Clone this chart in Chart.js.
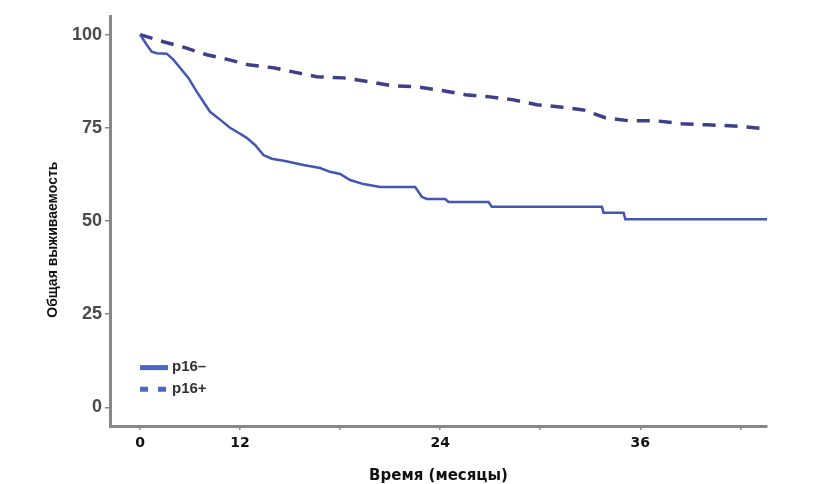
<!DOCTYPE html>
<html>
<head>
<meta charset="utf-8">
<script src="https://cdn.jsdelivr.net/npm/chart.js@4/dist/chart.umd.min.js"></script>
<style>
  html, body { margin: 0; padding: 0; background: #fff; }
  #wrap { width: 827px; height: 484px; }
</style>
</head>
<body>
<div id="wrap"><canvas id="kmChart" width="827" height="484"></canvas></div>
<script>
// Время (месяцы) / Общая выживаемость, %
const negMonths = [0, 0.2, 0.4, 0.7, 1.0, 1.6, 2.0, 2.4, 2.9, 3.4, 3.8, 4.2, 4.8, 5.4, 6.0, 6.4, 6.9, 7.4, 7.9, 8.7, 9.8, 10.8, 11.4, 12.0, 12.6, 13.4, 14.4, 16.5, 16.9, 17.2, 18.3, 18.5, 20.9, 21.1, 27.7, 27.8, 29.0, 29.1, 37.6];
const negSurv   = [100, 98.7, 97.3, 95.4, 95.0, 94.9, 93.3, 91.1, 88.4, 84.7, 82.0, 79.3, 77.2, 75.0, 73.4, 72.3, 70.4, 67.7, 66.7, 66.1, 65.0, 64.2, 63.2, 62.6, 61.0, 59.9, 59.1, 59.1, 56.5, 55.9, 55.9, 55.1, 55.1, 53.8, 53.8, 52.2, 52.2, 50.5, 50.5];

const posMonths = [0, 1.4, 2.7, 4.0, 5.3, 6.5, 8.0, 9.4, 10.6, 12.2, 13.7, 15.1, 16.6, 18.1, 19.5, 21.0, 22.4, 23.8, 25.2, 26.6, 27.9, 29.3, 30.9, 32.5, 34.0, 35.6, 37.6];
const posSurv   = [100, 98.1, 96.5, 94.6, 93.3, 91.9, 91.1, 89.8, 88.7, 88.4, 87.4, 86.3, 86.0, 85.0, 83.9, 83.3, 82.5, 81.2, 80.6, 79.8, 77.7, 76.9, 76.9, 76.1, 75.8, 75.5, 74.7];

const xTicks = [0, 6, 12, 18, 24, 30, 36];
const xTickLabels = ['0', '12', '', '24', '', '36', ''];
const yTicks = [0, 25, 50, 75, 100];
const seriesLabels = ['p16–', 'p16+'];
const yTitle = 'Общая выживаемость';

const toPoints = (xs, ys) => xs.map((x, i) => ({ x: x, y: ys[i] }));

// legend inside the plot (lower left) and the rotated y title
const extras = {
    id: 'extras',
    afterDraw(chart) {
        const ctx = chart.ctx;
        const xs = chart.scales.x, ys = chart.scales.y;
        const x0 = xs.getPixelForValue(0);
        const rows = [ys.getPixelForValue(10.8), ys.getPixelForValue(5)];
        ctx.save();
        ctx.fillStyle = '#4a66c4';
        ctx.fillRect(x0, rows[0] - 2, 28, 5);
        ctx.fillRect(x0, rows[1] - 2, 8, 5);
        ctx.fillRect(x0 + 18, rows[1] - 2, 8, 5);
        ctx.fillStyle = '#333';
        ctx.font = 'bold 15px "Liberation Sans", Arial, sans-serif';
        ctx.textBaseline = 'middle';
        ctx.fillText(chart.data.datasets[0].label, x0 + 32, rows[0]);
        ctx.fillText(chart.data.datasets[1].label, x0 + 32, rows[1]);

        ctx.translate(53, ys.getPixelForValue(45));
        ctx.rotate(-Math.PI / 2);
        ctx.textAlign = 'center';
        ctx.fillStyle = '#111';
        ctx.font = 'bold 14px "Liberation Sans Narrow", "Liberation Sans", Arial, sans-serif';
        ctx.fillText(yTitle, 0, 0);
        ctx.restore();
    }
};

const ctx = document.getElementById('kmChart').getContext('2d');
new Chart(ctx, {
    type: 'line',
    data: {
        datasets: [{
            label: seriesLabels[0],
            data: toPoints(negMonths, negSurv),
            borderColor: '#4256b2',
            borderWidth: 2.5,
            pointRadius: 0,
            tension: 0,
            fill: false
        }, {
            label: seriesLabels[1],
            data: toPoints(posMonths, posSurv),
            borderColor: '#3d3f88',
            borderWidth: 3.5,
            borderDash: [13, 9],
            pointRadius: 0,
            tension: 0,
            fill: false
        }]
    },
    options: {
        responsive: false,
        animation: false,
        layout: { padding: { top: 16, right: 60, left: 0, bottom: 0 } },
        plugins: {
            legend: { display: false },
            tooltip: { enabled: false }
        },
        scales: {
            x: {
                type: 'linear',
                min: -1.8,
                max: 37.6,
                afterBuildTicks: s => { s.ticks = xTicks.map(v => ({ value: v })); },
                afterFit: s => { s.height = 58; },
                ticks: {
                    callback: (v) => xTickLabels[xTicks.indexOf(v)],
                    color: '#111',
                    font: { family: '"DejaVu Sans", Verdana, sans-serif', size: 14, weight: 'bold' },
                    padding: 5,
                    maxRotation: 0,
                    autoSkip: false
                },
                grid: { drawOnChartArea: false, drawTicks: true, tickLength: 4, color: '#888', lineWidth: 1.5 },
                border: { color: '#888', width: 3 },
                title: {
                    display: true,
                    text: 'Время (месяцы)',
                    color: '#111',
                    font: { family: '"DejaVu Sans", Verdana, sans-serif', size: 15, weight: 'bold', lineHeight: 1 },
                    padding: { top: 0, bottom: 0 }
                }
            },
            y: {
                min: -5,
                max: 105,
                afterBuildTicks: s => { s.ticks = yTicks.map(v => ({ value: v })); },
                afterFit: s => { s.width = 110; },
                ticks: {
                    color: '#4a4a4a',
                    font: { family: '"Liberation Sans", Arial, sans-serif', size: 18, weight: 'bold' },
                    padding: 3
                },
                grid: { drawOnChartArea: false, drawTicks: true, tickLength: 5, color: '#888', lineWidth: 1.5 },
                border: { color: '#888', width: 3 }
            }
        }
    },
    plugins: [extras]
});
</script>
</body>
</html>
